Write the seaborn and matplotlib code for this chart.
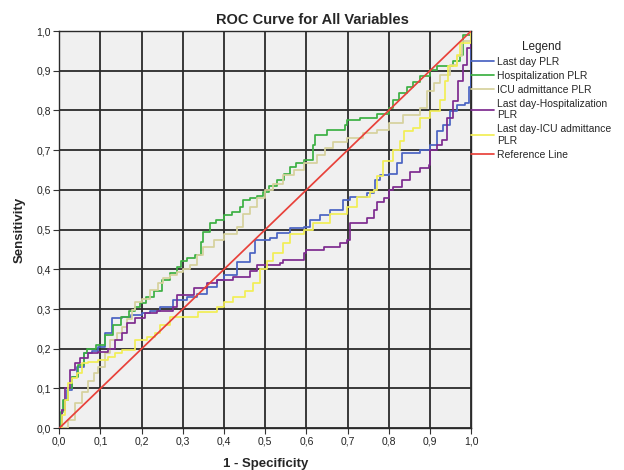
import matplotlib
matplotlib.use("Agg")
import matplotlib.pyplot as plt
import seaborn as sns
import pandas as pd
import numpy as np

# ---- data ----
last_day_x = [0, 0.006, 0.012, 0.019, 0.031, 0.043, 0.059, 0.08, 0.095, 0.112, 0.128, 0.152, 0.175, 0.2, 0.22,
              0.245, 0.277, 0.31, 0.335, 0.358, 0.383, 0.4, 0.431, 0.464, 0.476, 0.512, 0.528, 0.56, 0.593, 0.609,
              0.633, 0.658, 0.69, 0.706, 0.747, 0.763, 0.767, 0.779, 0.8, 0.82, 0.832, 0.876, 0.9, 0.917, 0.932,
              0.949, 0.965, 0.985, 0.995, 1.0, 1.0]
last_day_y = [0, 0.045, 0.07, 0.096, 0.13, 0.155, 0.189, 0.195, 0.205, 0.239, 0.277, 0.28, 0.285, 0.29, 0.295,
              0.305, 0.322, 0.331, 0.339, 0.356, 0.373, 0.385, 0.419, 0.44, 0.474, 0.478, 0.491, 0.503, 0.507, 0.524,
              0.537, 0.549, 0.574, 0.583, 0.591, 0.6, 0.625, 0.637, 0.64, 0.667, 0.692, 0.7, 0.713, 0.747, 0.764,
              0.798, 0.814, 0.82, 0.86, 0.93, 1.0]

hosp_x = [0, 0.005, 0.01, 0.02, 0.03, 0.045, 0.06, 0.068, 0.09, 0.11, 0.13, 0.15, 0.17, 0.185, 0.195, 0.21,
          0.23, 0.25, 0.27, 0.285, 0.296, 0.31, 0.33, 0.345, 0.35, 0.365, 0.38, 0.4, 0.42, 0.44, 0.445, 0.464,
          0.48, 0.495, 0.51, 0.528, 0.545, 0.56, 0.575, 0.593, 0.617, 0.621, 0.65, 0.694, 0.698, 0.73, 0.771,
          0.8, 0.81, 0.825, 0.844, 0.86, 0.876, 0.9, 0.917, 0.957, 0.973, 0.981, 1.0]
hosp_y = [0, 0.04, 0.07, 0.1, 0.13, 0.16, 0.19, 0.2, 0.21, 0.235, 0.26, 0.28, 0.295, 0.305, 0.315, 0.33,
          0.345, 0.373, 0.39, 0.405, 0.42, 0.428, 0.436, 0.47, 0.494, 0.516, 0.525, 0.537, 0.545, 0.557, 0.574,
          0.58, 0.585, 0.595, 0.61, 0.625, 0.64, 0.658, 0.667, 0.675, 0.713, 0.738, 0.75, 0.763, 0.776, 0.78,
          0.79, 0.806, 0.827, 0.845, 0.86, 0.872, 0.886, 0.902, 0.911, 0.924, 0.94, 0.99, 1.0]

icu_x = [0, 0.01, 0.02, 0.039, 0.055, 0.07, 0.085, 0.095, 0.112, 0.124, 0.14, 0.152, 0.165, 0.176, 0.184, 0.2,
         0.221, 0.24, 0.253, 0.27, 0.286, 0.3, 0.318, 0.335, 0.35, 0.375, 0.4, 0.431, 0.447, 0.464, 0.48, 0.5,
         0.52, 0.544, 0.57, 0.593, 0.625, 0.645, 0.665, 0.698, 0.738, 0.771, 0.8, 0.835, 0.876, 0.892, 0.91,
         0.925, 0.949, 0.965, 0.977, 1.0]
icu_y = [0, 0, 0.02, 0.063, 0.09, 0.12, 0.14, 0.155, 0.19, 0.222, 0.24, 0.255, 0.275, 0.297, 0.318, 0.325,
         0.348, 0.365, 0.377, 0.385, 0.394, 0.4, 0.41, 0.435, 0.457, 0.475, 0.49, 0.507, 0.54, 0.557, 0.58, 0.6,
         0.615, 0.637, 0.65, 0.667, 0.688, 0.705, 0.721, 0.73, 0.743, 0.751, 0.768, 0.789, 0.806, 0.848, 0.87,
         0.89, 0.915, 0.936, 0.974, 1.0]

ld_hosp_x = [0, 0.006, 0.015, 0.027, 0.039, 0.051, 0.07, 0.095, 0.119, 0.136, 0.152, 0.164, 0.184, 0.209, 0.237,
             0.277, 0.286, 0.326, 0.358, 0.383, 0.423, 0.464, 0.48, 0.536, 0.544, 0.593, 0.6, 0.642, 0.682, 0.698,
             0.706, 0.747, 0.763, 0.771, 0.789, 0.8, 0.811, 0.832, 0.852, 0.876, 0.897, 0.9, 0.917, 0.929, 0.941,
             0.957, 0.969, 0.981, 0.99, 1.0]
ld_hosp_y = [0, 0.045, 0.1, 0.146, 0.163, 0.176, 0.189, 0.193, 0.2, 0.222, 0.239, 0.264, 0.277, 0.29, 0.296,
             0.306, 0.335, 0.352, 0.365, 0.373, 0.381, 0.395, 0.41, 0.415, 0.423, 0.44, 0.448, 0.457, 0.466, 0.474,
             0.516, 0.528, 0.549, 0.57, 0.579, 0.6, 0.608, 0.625, 0.646, 0.654, 0.662, 0.7, 0.713, 0.725, 0.78,
             0.823, 0.873, 0.915, 0.957, 1.0]

ld_icu_x = [0, 0.006, 0.014, 0.022, 0.031, 0.043, 0.055, 0.07, 0.095, 0.119, 0.135, 0.152, 0.184, 0.213, 0.233,
            0.245, 0.269, 0.318, 0.338, 0.383, 0.4, 0.423, 0.45, 0.47, 0.488, 0.504, 0.52, 0.544, 0.56, 0.593,
            0.617, 0.658, 0.698, 0.722, 0.755, 0.763, 0.771, 0.787, 0.811, 0.828, 0.836, 0.86, 0.876, 0.9, 0.925,
            0.937, 0.944, 0.965, 0.973, 1.0]
ld_icu_y = [0, 0.033, 0.07, 0.113, 0.126, 0.138, 0.163, 0.167, 0.171, 0.18, 0.19, 0.197, 0.222, 0.23, 0.239,
            0.259, 0.28, 0.28, 0.293, 0.306, 0.318, 0.331, 0.345, 0.365, 0.4, 0.42, 0.44, 0.466, 0.49, 0.499,
            0.516, 0.54, 0.557, 0.583, 0.595, 0.6, 0.635, 0.672, 0.7, 0.722, 0.747, 0.756, 0.781, 0.798, 0.827,
            0.873, 0.911, 0.94, 0.97, 1.0]

ref_x = [0, 1]
ref_y = [0, 1]

series_names = ["Last day PLR", "Hospitalization PLR", "ICU admittance PLR",
                "Last day-Hospitalization\nPLR", "Last day-ICU admittance\nPLR", "Reference Line"]
series_colors = ["#4a63c2", "#3cb043", "#d6d29c", "#7d2a8f", "#f2ee55", "#e8413a"]
tick_values = [0.0, 0.1, 0.2, 0.3, 0.4, 0.5, 0.6, 0.7, 0.8, 0.9, 1.0]
tick_labels = ["0,0", "0,1", "0,2", "0,3", "0,4", "0,5", "0,6", "0,7", "0,8", "0,9", "1,0"]

xs = [last_day_x, hosp_x, icu_x, ld_hosp_x, ld_icu_x, ref_x]
ys = [last_day_y, hosp_y, icu_y, ld_hosp_y, ld_icu_y, ref_y]

frames = []
for name, x, y in zip(series_names, xs, ys):
    frames.append(pd.DataFrame({"fpr": x, "tpr": y, "variable": name}))
df = pd.concat(frames, ignore_index=True)

sns.set_theme(style="white")
plt.rcParams["font.family"] = ["Liberation Sans", "DejaVu Sans"]

fig = plt.figure(figsize=(6.24, 4.70), dpi=100)
ax = fig.add_axes([0.095, 0.089, 0.66, 0.845])
ax.set_facecolor("#f0f0f0")

palette = dict(zip(series_names, series_colors))
curves = df[df["variable"] != "Reference Line"]
sns.lineplot(data=curves, x="fpr", y="tpr", hue="variable", palette=palette,
             estimator=None, sort=False, drawstyle="steps-post", linewidth=1.25,
             ax=ax, zorder=3)
refdf = df[df["variable"] == "Reference Line"]
sns.lineplot(data=refdf, x="fpr", y="tpr", hue="variable", palette=palette,
             estimator=None, sort=False, linewidth=1.25, ax=ax, zorder=4)

ax.set_xlim(0, 1)
ax.set_ylim(0, 1)
ax.set_xticks(tick_values)
ax.set_xticklabels(tick_labels, fontsize=7.5)
ax.set_yticks(tick_values)
ax.set_yticklabels(tick_labels, fontsize=7.5)
ax.grid(True, color="#2a2a2a", linewidth=1.3)
ax.set_axisbelow(True)
ax.tick_params(axis="both", direction="out", length=4, width=0.8, color="#333333", pad=2, labelcolor="#222222",
               bottom=True, left=True)
for s in ax.spines.values():
    s.set_color("#2a2a2a")
    s.set_linewidth(1.0)

ax.set_xlabel("1 - Specificity", fontsize=9.5, fontweight="bold", labelpad=8)
ax.set_ylabel("Sensitivity", fontsize=9.5, fontweight="bold", labelpad=8)
fig.text(0.5, 0.958, "ROC Curve for All Variables", ha="center", va="center",
         fontsize=10.5, fontweight="bold")

handles, labels = ax.get_legend_handles_labels()
leg = ax.legend(handles, labels, loc="upper left", bbox_to_anchor=(1.0, 0.975), frameon=False,
                title="Legend", fontsize=7.5, title_fontsize=8.5, handlelength=2.2,
                handletextpad=0.3, labelspacing=0.38, borderpad=0.0, borderaxespad=0.0)
leg.get_title().set_color("#222222")

fig.savefig("out.png", dpi=100)
